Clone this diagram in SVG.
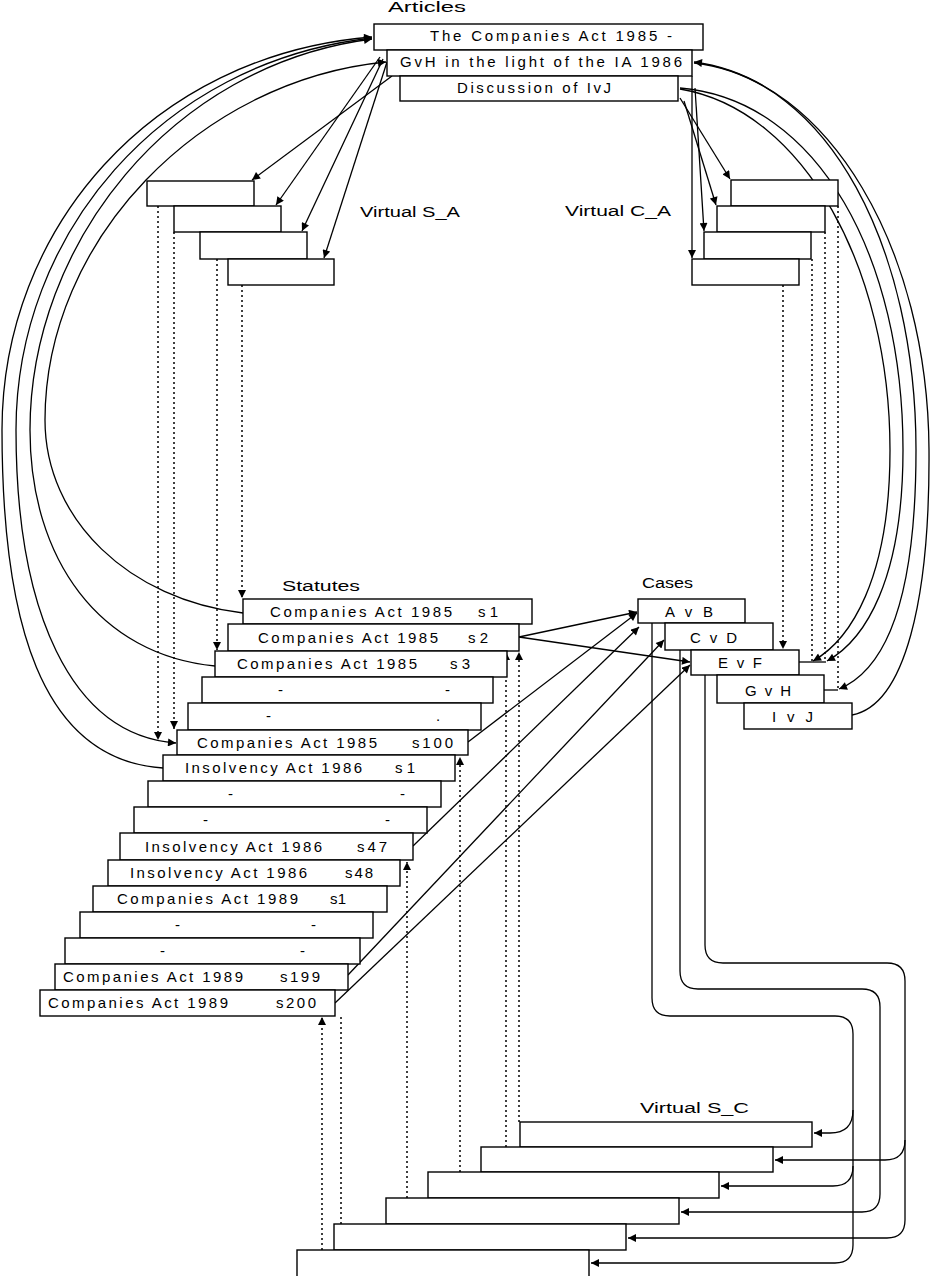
<svg xmlns="http://www.w3.org/2000/svg" width="933" height="1276" viewBox="0 0 933 1276">
<style>
.box{fill:#fff;stroke:#000;stroke-width:1.4}
.t{font-family:"Liberation Sans",Arial,sans-serif;font-size:15px;fill:#000}
.lb{font-family:"Liberation Sans",Arial,sans-serif;font-size:14px;fill:#000}
.c{fill:none;stroke:#000;stroke-width:1.3}
.d{fill:none;stroke:#000;stroke-width:1.5;stroke-dasharray:2 3}
</style>
<defs>
<marker id="ah" viewBox="0 0 10 10" refX="10" refY="5" markerWidth="9" markerHeight="8" markerUnits="userSpaceOnUse" orient="auto">
<path d="M0,0 L10,5 L0,10 Z" fill="#000"/>
</marker>
</defs>
<rect width="933" height="1276" fill="#fff"/>

<g id="labels">
<text class="lb" x="388" y="12" textLength="78" lengthAdjust="spacingAndGlyphs">Articles</text>
<text class="lb" x="360" y="217" textLength="100" lengthAdjust="spacingAndGlyphs">Virtual  S_A</text>
<text class="lb" x="565" y="216" textLength="106" lengthAdjust="spacingAndGlyphs">Virtual  C_A</text>
<text class="lb" x="282" y="591" textLength="78" lengthAdjust="spacingAndGlyphs">Statutes</text>
<text class="lb" x="642" y="588" textLength="51" lengthAdjust="spacingAndGlyphs">Cases</text>
<text class="lb" x="640" y="1113" textLength="109" lengthAdjust="spacingAndGlyphs">Virtual  S_C</text>
</g>

<g id="connectors">
<!-- left arcs -->
<path class="c" d="M163,768 C40,760 2,620 2,430 C2,230 150,55 372,37" marker-end="url(#ah)"/>
<path class="c" d="M372,38 C160,62 16,235 16,430 C16,610 70,735 176,743" marker-end="url(#ah)"/>
<path class="c" d="M215,666 C100,655 30,560 30,430 C30,245 170,65 372,39" marker-end="url(#ah)"/>
<path class="c" d="M243,613 C130,600 45,520 45,420 C45,240 200,80 386,62" marker-end="url(#ah)"/>
<!-- articles to virtual S_A -->
<path class="c" d="M392,76 L252,180" marker-end="url(#ah)"/>
<path class="c" d="M380,57 L276,205" marker-end="url(#ah)"/>
<path class="c" d="M383,59 L302,231" marker-end="url(#ah)"/>
<path class="c" d="M387,62 L324,258" marker-end="url(#ah)"/>
<!-- virtual S_A down to statutes -->
<path class="d" d="M158,206 L158,740" marker-end="url(#ah)"/>
<path class="d" d="M174,232 L174,729" marker-end="url(#ah)"/>
<path class="d" d="M217,259 L217,650" marker-end="url(#ah)"/>
<path class="d" d="M242,285 L242,598" marker-end="url(#ah)"/>
<!-- articles to virtual C_A -->
<path class="c" d="M692,76 L692,258" marker-end="url(#ah)"/>
<path class="c" d="M695,88 L704,231" marker-end="url(#ah)"/>
<path class="c" d="M684,101 L716,205" marker-end="url(#ah)"/>
<path class="c" d="M680,98 L730,179" marker-end="url(#ah)"/>
<!-- right arcs -->
<path class="c" d="M852,715 C905,705 930,600 929,450 C928,250 830,80 694,62" marker-end="url(#ah)"/>
<path class="c" d="M694,63 C830,78 916,250 916,450 C916,600 885,670 839,689" marker-end="url(#ah)"/>
<path class="c" d="M680,88 C820,100 903,260 903,450 C903,580 865,640 827,661" marker-end="url(#ah)"/>
<path class="c" d="M680,89 C805,110 890,270 890,450 C890,580 850,640 813,661" marker-end="url(#ah)"/>
<path class="c" d="M799,662 L826,662"/>
<path class="c" d="M824,690 L838,690"/>
<!-- virtual C_A down to cases -->
<path class="d" d="M783,285 L783,649" marker-end="url(#ah)"/>
<path class="d" d="M812,259 L812,661"/>
<path class="d" d="M825,232 L825,661"/>
<path class="d" d="M838,206 L838,689"/>
<!-- statutes to cases -->
<path class="c" d="M519,637 L637,612" marker-end="url(#ah)"/>
<path class="c" d="M519,637 L690,662" marker-end="url(#ah)"/>
<path class="c" d="M468,742 L637,613" marker-end="url(#ah)"/>
<path class="c" d="M413,846 L639,627" marker-end="url(#ah)"/>
<path class="c" d="M348,975 L664,640" marker-end="url(#ah)"/>
<path class="c" d="M335,1003 L690,665" marker-end="url(#ah)"/>
<!-- virtual S_C up to statutes -->
<path class="d" d="M322,1250 L322,1017" marker-end="url(#ah)"/>
<path class="d" d="M341,1224 L341,1016"/>
<path class="d" d="M407,1198 L407,862" marker-end="url(#ah)"/>
<path class="d" d="M460,1172 L460,757" marker-end="url(#ah)"/>
<path class="d" d="M506,1147 L506,652" marker-end="url(#ah)"/>
<path class="d" d="M519,1122 L519,652" marker-end="url(#ah)"/>
<!-- cases to virtual S_C -->
<path class="c" d="M652,623 L652,998 Q652,1016 670,1016 L835,1016 Q853,1016 853,1034 L853,1245 Q853,1263 835,1263 L591,1263" marker-end="url(#ah)"/>
<path class="c" d="M853,1110 Q853,1133 830,1133 L814,1133" marker-end="url(#ah)"/>
<path class="c" d="M853,1166 Q853,1186 833,1186 L721,1186" marker-end="url(#ah)"/>
<path class="c" d="M680,650 L680,971 Q680,989 698,989 L862,989 Q880,989 880,1007 L880,1194 Q880,1212 862,1212 L681,1212" marker-end="url(#ah)"/>
<path class="c" d="M705,675 L705,945 Q705,963 723,963 L887,963 Q905,963 905,981 L905,1220 Q905,1238 887,1238 L628,1238" marker-end="url(#ah)"/>
<path class="c" d="M905,1140 Q905,1160 885,1160 L775,1160" marker-end="url(#ah)"/>
</g>

<g id="articles">
<g id="art1"><rect class="box" x="374" y="24" width="329" height="26"/><text class="t" x="430" y="41" textLength="242" lengthAdjust="spacing">The Companies Act 1985 -</text></g>
<g id="art2"><rect class="box" x="387" y="50" width="305" height="26"/><text class="t" x="400" y="67" textLength="282" lengthAdjust="spacing">GvH in the light of the IA 1986</text></g>
<g id="art3"><rect class="box" x="400" y="76" width="278" height="25"/><text class="t" x="457" y="93" textLength="154" lengthAdjust="spacing">Discussion of IvJ</text></g>
</g>

<g id="virtual-sa">
<rect id="sa1" class="box" x="147" y="181" width="107" height="25"/>
<rect id="sa2" class="box" x="174" y="206" width="107" height="26"/>
<rect id="sa3" class="box" x="200" y="232" width="107" height="27"/>
<rect id="sa4" class="box" x="228" y="259" width="106" height="26"/>
</g>

<g id="virtual-ca">
<rect id="ca1" class="box" x="731" y="180" width="107" height="26"/>
<rect id="ca2" class="box" x="717" y="206" width="108" height="26"/>
<rect id="ca3" class="box" x="704" y="232" width="107" height="27"/>
<rect id="ca4" class="box" x="692" y="259" width="107" height="26"/>
</g>

<g id="statutes">
<g id="st1"><rect class="box" x="243" y="599" width="289" height="25"/><text class="t" x="270" y="617" textLength="182" lengthAdjust="spacing">Companies Act 1985</text><text class="t" x="478" y="617" textLength="20" lengthAdjust="spacing">s1</text></g>
<g id="st2"><rect class="box" x="228" y="624" width="291" height="27"/><text class="t" x="258" y="643" textLength="180" lengthAdjust="spacing">Companies Act 1985</text><text class="t" x="468" y="643" textLength="20" lengthAdjust="spacing">s2</text></g>
<g id="st3"><rect class="box" x="215" y="651" width="292" height="26"/><text class="t" x="237" y="669" textLength="180" lengthAdjust="spacing">Companies Act 1985</text><text class="t" x="450" y="669" textLength="20" lengthAdjust="spacing">s3</text></g>
<g id="st4"><rect class="box" x="202" y="677" width="291" height="26"/><text class="t" x="278" y="695">-</text><text class="t" x="445" y="695">-</text></g>
<g id="st5"><rect class="box" x="188" y="703" width="293" height="27"/><text class="t" x="266" y="721">-</text><text class="t" x="436" y="721">.</text></g>
<g id="st6"><rect class="box" x="177" y="730" width="291" height="25"/><text class="t" x="197" y="748" textLength="180" lengthAdjust="spacing">Companies Act 1985</text><text class="t" x="412" y="748" textLength="41" lengthAdjust="spacing">s100</text></g>
<g id="st7"><rect class="box" x="163" y="755" width="292" height="26"/><text class="t" x="185" y="773" textLength="177" lengthAdjust="spacing">Insolvency Act 1986</text><text class="t" x="395" y="773" textLength="20" lengthAdjust="spacing">s1</text></g>
<g id="st8"><rect class="box" x="148" y="781" width="293" height="26"/><text class="t" x="228" y="799">-</text><text class="t" x="400" y="799">-</text></g>
<g id="st9"><rect class="box" x="134" y="807" width="293" height="26"/><text class="t" x="203" y="825">-</text><text class="t" x="385" y="825">-</text></g>
<g id="st10"><rect class="box" x="120" y="833" width="293" height="27"/><text class="t" x="145" y="852" textLength="177" lengthAdjust="spacing">Insolvency Act 1986</text><text class="t" x="357" y="852" textLength="30" lengthAdjust="spacing">s47</text></g>
<g id="st11"><rect class="box" x="108" y="860" width="292" height="26"/><text class="t" x="130" y="878" textLength="177" lengthAdjust="spacing">Insolvency Act 1986</text><text class="t" x="345" y="878" textLength="28" lengthAdjust="spacing">s48</text></g>
<g id="st12"><rect class="box" x="93" y="886" width="294" height="26"/><text class="t" x="117" y="904" textLength="181" lengthAdjust="spacing">Companies Act 1989</text><text class="t" x="330" y="904" textLength="16" lengthAdjust="spacing">s1</text></g>
<g id="st13"><rect class="box" x="80" y="912" width="293" height="26"/><text class="t" x="175" y="930">-</text><text class="t" x="311" y="930">-</text></g>
<g id="st14"><rect class="box" x="65" y="938" width="295" height="26"/><text class="t" x="160" y="956">-</text><text class="t" x="300" y="956">-</text></g>
<g id="st15"><rect class="box" x="55" y="964" width="293" height="26"/><text class="t" x="63" y="982" textLength="180" lengthAdjust="spacing">Companies Act 1989</text><text class="t" x="280" y="982" textLength="40" lengthAdjust="spacing">s199</text></g>
<g id="st16"><rect class="box" x="40" y="990" width="295" height="26"/><text class="t" x="48" y="1008" textLength="180" lengthAdjust="spacing">Companies Act 1989</text><text class="t" x="276" y="1008" textLength="40" lengthAdjust="spacing">s200</text></g>
</g>

<g id="cases">
<g id="case1"><rect class="box" x="638" y="599" width="107" height="24"/><text class="t" x="665" y="617" textLength="48" lengthAdjust="spacing">A v B</text></g>
<g id="case2"><rect class="box" x="665" y="623" width="108" height="27"/><text class="t" x="690" y="643" textLength="47" lengthAdjust="spacing">C v D</text></g>
<g id="case3"><rect class="box" x="691" y="650" width="108" height="25"/><text class="t" x="718" y="668" textLength="44" lengthAdjust="spacing">E v F</text></g>
<g id="case4"><rect class="box" x="717" y="675" width="107" height="28"/><text class="t" x="745" y="696" textLength="46" lengthAdjust="spacing">G v H</text></g>
<g id="case5"><rect class="box" x="744" y="703" width="108" height="26"/><text class="t" x="772" y="722" textLength="41" lengthAdjust="spacing">I v J</text></g>
</g>

<g id="virtual-sc">
<rect id="sc1" class="box" x="520" y="1122" width="292" height="25"/>
<rect id="sc2" class="box" x="481" y="1147" width="292" height="25"/>
<rect id="sc3" class="box" x="428" y="1172" width="291" height="26"/>
<rect id="sc4" class="box" x="386" y="1198" width="293" height="26"/>
<rect id="sc5" class="box" x="334" y="1224" width="292" height="26"/>
<rect id="sc6" class="box" x="297" y="1250" width="292" height="30"/>
</g>
</svg>
